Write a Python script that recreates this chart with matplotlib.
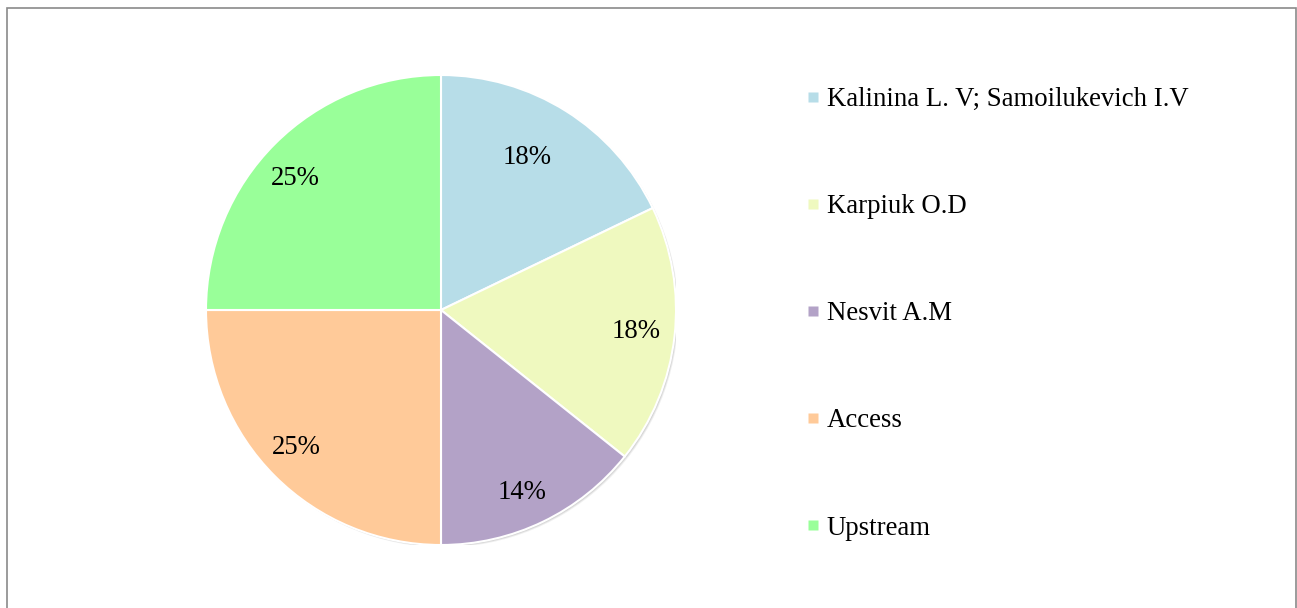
import matplotlib
matplotlib.use("Agg")
import matplotlib.pyplot as plt
import numpy as np
from matplotlib.lines import Line2D
from matplotlib.patches import Rectangle, Circle

labels = ["Kalinina L. V; Samoilukevich I.V", "Karpiuk O.D", "Nesvit A.M", "Access", "Upstream"]
values = [5, 5, 4, 7, 7]
colors = ["#B7DDE8", "#EFF9BF", "#B3A2C7", "#FFCA99", "#99FF99"]
label_dist = [0.746, 0.835, 0.851, 0.849, 0.837]
label_angle_shift = [2.9, 0.0, -1.8, -1.6, 2.9]

plt.rcParams['font.family'] = ['Liberation Serif', 'DejaVu Serif']

W, H = 1297, 608
fig = plt.figure(figsize=(W/100, H/100), dpi=100)
fig.patch.set_facecolor('white')

# border
fig.add_artist(Rectangle((6.5/W, -0.05), (1296-6.5)/W, (H-8.5)/H + 0.05,
                         transform=fig.transFigure, fill=False,
                         edgecolor='#8a8a8a', linewidth=1.2))

cx, cy, r = 441, H-310, 235
ax = fig.add_axes([(cx-r)/W, (cy-r)/H, 2*r/W, 2*r/H])

# soft shadow
for i, a in enumerate([0.10, 0.08, 0.06]):
    ax.add_patch(Circle((0.004+0.003*i, -0.004-0.003*i), 1.0, facecolor='#000000',
                        alpha=a, edgecolor='none', zorder=0))

wedges, texts, autotexts = ax.pie(values, colors=colors, startangle=90, counterclock=False,
                                  autopct='%1.0f%%', radius=1.0,
                                  wedgeprops=dict(edgecolor='white', linewidth=1.5),
                                  textprops=dict(fontsize=19.3, color='black'))
for w, t, d, s in zip(wedges, autotexts, label_dist, label_angle_shift):
    ang = np.deg2rad((w.theta1 + w.theta2) / 2 + s)
    t.set_position((d*np.cos(ang), d*np.sin(ang)))
ax.set_xlim(-1, 1)
ax.set_ylim(-1, 1)
ax.set_aspect('equal')
ax.axis('off')

handles = [Line2D([], [], marker='s', linestyle='none', markersize=7,
                  markerfacecolor=c, markeredgecolor='none') for c in colors]
leg = fig.legend(handles, labels, loc='upper left', bbox_to_anchor=(808/W, 1-87/H),
                 frameon=False, fontsize=19.3, handlelength=0.4, handletextpad=0.3,
                 labelspacing=3.065, borderpad=0, borderaxespad=0)

fig.savefig("out.png", dpi=100, facecolor='white')
